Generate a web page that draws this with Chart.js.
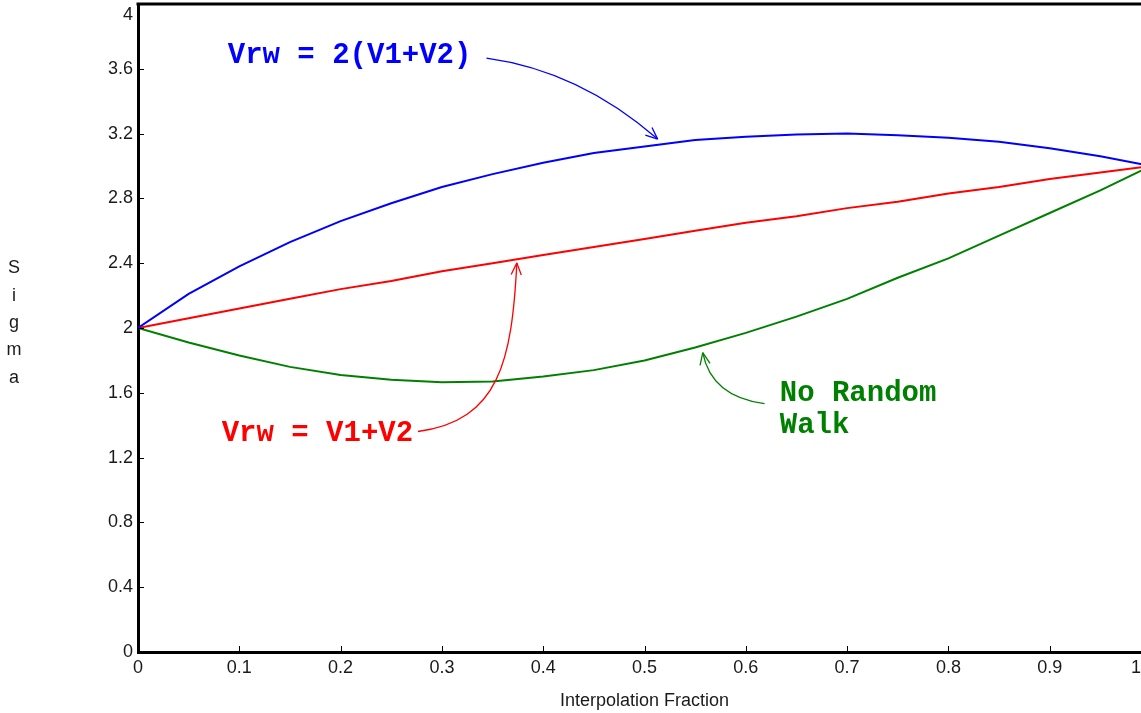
<!DOCTYPE html>
<html>
<head>
<meta charset="utf-8">
<script src="https://cdn.jsdelivr.net/npm/chart.js@4"></script>
<style>
  html, body { margin: 0; padding: 0; background: #fff; overflow: hidden; }
  #c { display: block; }
</style>
</head>
<body>
<canvas id="c" width="1162" height="713"></canvas>
<script>
// valori
const fraction = [0, 0.05, 0.1, 0.15, 0.2, 0.25, 0.3, 0.35, 0.4, 0.45, 0.5,
                  0.55, 0.6, 0.65, 0.7, 0.75, 0.8, 0.85, 0.9, 0.95, 1];
const sigmaRw2 = [2.00, 2.21, 2.38, 2.53, 2.66, 2.77, 2.87, 2.95, 3.02, 3.08, 3.12,
                  3.16, 3.18, 3.195, 3.20, 3.19, 3.175, 3.15, 3.11, 3.06, 3.00];
const sigmaRw1 = [2.00, 2.06, 2.12, 2.18, 2.24, 2.29, 2.35, 2.40, 2.45, 2.50, 2.55,
                  2.60, 2.65, 2.69, 2.74, 2.78, 2.83, 2.87, 2.92, 2.96, 3.00];
const sigmaNoRw = [2.00, 1.91, 1.83, 1.76, 1.71, 1.68, 1.665, 1.67, 1.70, 1.74, 1.80,
                   1.88, 1.97, 2.07, 2.18, 2.31, 2.43, 2.57, 2.71, 2.85, 3.00];

const xTicks = [0, 0.1, 0.2, 0.3, 0.4, 0.5, 0.6, 0.7, 0.8, 0.9, 1];
const xTickLabels = ['0', '0.1', '0.2', '0.3', '0.4', '0.5', '0.6', '0.7', '0.8', '0.9', '1'];
const yTicks = [0, 0.4, 0.8, 1.2, 1.6, 2, 2.4, 2.8, 3.2, 3.6, 4];
const yTickLabels = ['0', '0.4', '0.8', '1.2', '1.6', '2', '2.4', '2.8', '3.2', '3.6', '4'];

const pts = vals => fraction.map((f, i) => ({x: f, y: vals[i]}));

// etichette con freccia, in unita' dei dati
const notes = [
  {lines: ['Vrw = 2(V1+V2)'], color: '#0000ff', at: [0.0886, 3.68],
   arrow: [[0.344, 3.666], [0.436, 3.587], [0.513, 3.166]]},
  {lines: ['Vrw = V1+V2'], color: '#ff0000', at: [0.0826, 1.348],
   arrow: [[0.2763, 1.361], [0.357, 1.429], [0.369, 1.80], [0.374, 2.402]]},
  {lines: ['No Random', 'Walk'], color: '#008000', at: [0.6335, 1.595],
   arrow: [[0.6185, 1.533], [0.566, 1.576], [0.5575, 1.848]]}
];

const tickFont = "18px 'Liberation Sans', Arial, sans-serif";

var decor = {
  id: 'decor',
  afterDraw(chart) {
    const {ctx, chartArea: a} = chart;
    const x = chart.scales.x, y = chart.scales.y;
    const P = (f, v) => [x.getPixelForValue(f), y.getPixelForValue(v)];

    ctx.save();
    ctx.strokeStyle = '#000';

    // bordo superiore
    ctx.lineWidth = 3;
    ctx.beginPath();
    ctx.moveTo(a.left - 1.5, a.top);
    ctx.lineTo(a.right + 2, a.top);
    ctx.stroke();

    // tacche verso l'interno
    ctx.lineWidth = 1;
    xTicks.forEach(v => {
      const px = Math.round(x.getPixelForValue(v)) + 0.5;
      ctx.beginPath(); ctx.moveTo(px, a.bottom); ctx.lineTo(px, a.bottom - 6); ctx.stroke();
    });
    yTicks.forEach(v => {
      const py = Math.round(y.getPixelForValue(v)) + 0.5;
      ctx.beginPath(); ctx.moveTo(a.left, py); ctx.lineTo(a.left + 6, py); ctx.stroke();
    });

    // etichette ai bordi (tagliate nell'originale)
    ctx.fillStyle = '#1a1a1a';
    ctx.font = tickFont;
    ctx.textBaseline = 'middle';
    ctx.textAlign = 'right';
    ctx.fillText(yTickLabels[yTickLabels.length - 1], a.left - 5, a.top + 11);
    ctx.textAlign = 'center';
    ctx.fillText(xTickLabels[xTickLabels.length - 1], 1136, a.bottom + 16);

    // titolo asse y, lettere in colonna
    const word = 'Sigma';
    const mid = (a.top + a.bottom) / 2 - 5;
    for (let i = 0; i < word.length; i++) {
      ctx.fillText(word[i], 14, mid + (i - 2) * 27.3);
    }

    // annotazioni
    notes.forEach(n => {
      ctx.fillStyle = n.color;
      ctx.strokeStyle = n.color;
      ctx.font = "bold 29px 'Liberation Mono', 'Courier New', monospace";
      ctx.textAlign = 'left';
      ctx.textBaseline = 'middle';
      const [tx, ty] = P(n.at[0], n.at[1]);
      n.lines.forEach((s, i) => ctx.fillText(s, tx, ty + i * 32));

      const p = n.arrow.map(q => P(q[0], q[1]));
      ctx.lineWidth = 1.3;
      ctx.beginPath();
      ctx.moveTo(p[0][0], p[0][1]);
      if (p.length === 3) ctx.quadraticCurveTo(p[1][0], p[1][1], p[2][0], p[2][1]);
      else ctx.bezierCurveTo(p[1][0], p[1][1], p[2][0], p[2][1], p[3][0], p[3][1]);
      ctx.stroke();

      const end = p[p.length - 1], prev = p[p.length - 2];
      const ang = Math.atan2(end[1] - prev[1], end[0] - prev[0]);
      ctx.beginPath();
      [-0.4, 0.4].forEach(d => {
        ctx.moveTo(end[0], end[1]);
        ctx.lineTo(end[0] - 13 * Math.cos(ang + d), end[1] - 13 * Math.sin(ang + d));
      });
      ctx.stroke();
    });

    ctx.restore();
  }
};

Chart.defaults.font.family = "'Liberation Sans', Arial, sans-serif";
Chart.defaults.font.size = 18;
Chart.defaults.color = '#1a1a1a';

new Chart(document.getElementById('c'), {
  type: 'line',
  data: {
    datasets: [
      {label: 'Vrw = 2(V1+V2)', data: pts(sigmaRw2), borderColor: '#0000ff'},
      {label: 'Vrw = V1+V2', data: pts(sigmaRw1), borderColor: '#ff0000'},
      {label: 'No Random Walk', data: pts(sigmaNoRw), borderColor: '#008000'}
    ]
  },
  options: {
    responsive: false,
    animation: false,
    events: [],
    layout: {padding: {left: 0, top: 4, right: 11, bottom: 0}},
    elements: {
      line: {borderWidth: 2, tension: 0, fill: false},
      point: {radius: 0}
    },
    plugins: {legend: {display: false}, tooltip: {enabled: false}},
    scales: {
      x: {
        type: 'linear', min: 0, max: 1,
        afterBuildTicks: s => { s.ticks = xTicks.map(v => ({value: v})); },
        afterFit: s => { s.height = 61; s.paddingLeft = 0; s.paddingRight = 0; },
        grid: {display: false, drawTicks: false},
        border: {display: true, width: 3, color: '#000'},
        ticks: {
          padding: 5, maxRotation: 0, autoSkip: false,
          callback: (v, i) => i === xTicks.length - 1 ? '' : xTickLabels[i]
        },
        title: {display: true, text: 'Interpolation Fraction', padding: {top: 0, bottom: 1}}
      },
      y: {
        type: 'linear', min: 0, max: 4,
        afterBuildTicks: s => { s.ticks = yTicks.map(v => ({value: v})); },
        afterFit: s => { s.width = 138; s.paddingTop = 0; s.paddingBottom = 0; },
        grid: {display: false, drawTicks: false},
        border: {display: true, width: 3, color: '#000'},
        ticks: {
          padding: 5, autoSkip: false,
          callback: (v, i) => i === yTicks.length - 1 ? '' : yTickLabels[i]
        }
      }
    }
  },
  plugins: [decor]
});
</script>
</body>
</html>
